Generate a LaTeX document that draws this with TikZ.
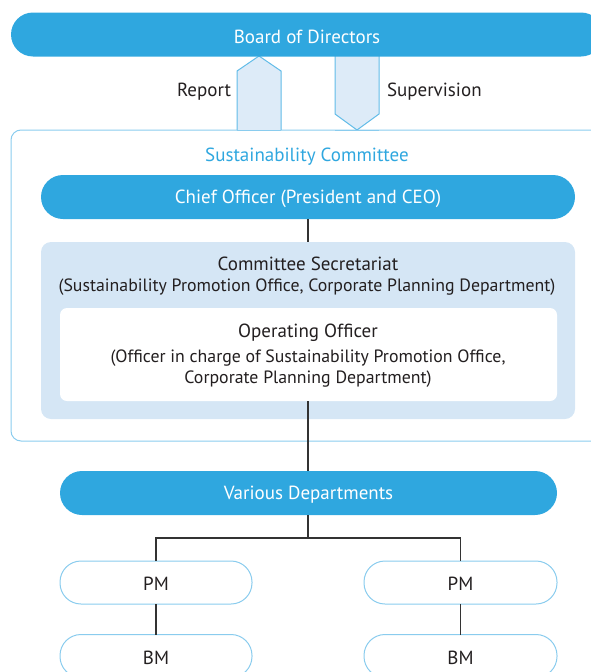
\documentclass[tikz,border=0pt]{standalone}
\usepackage{fontspec}
\setmainfont{PT Sans}
\begin{document}
\begin{tikzpicture}[x=1pt,y=-1pt,
  font=\fontsize{19}{22}\selectfont,
  every node/.style={inner sep=0pt, outer sep=0pt},
  pill/.style={fill=mainblue, draw=none, rounded corners=22pt, text=white},
  wpill/.style={fill=white, draw=lineblue, line width=1pt, rounded corners=21pt, text=textdark},
  conn/.style={draw=connc, line width=1.3pt},
  small/.style={font=\fontsize{17.8}{21}\selectfont},
  arrowshape/.style={fill=arrfill, draw=arrline, line width=1pt, line join=miter}
]
\definecolor{mainblue}{HTML}{2FA7DF}
\definecolor{lineblue}{HTML}{8ACCEE}
\definecolor{arrfill}{HTML}{DDEBF8}
\definecolor{arrline}{HTML}{62BCE8}
\definecolor{secfill}{HTML}{D5E6F5}
\definecolor{textdark}{HTML}{231F20}
\definecolor{connc}{HTML}{333333}
\useasboundingbox (0,0) rectangle (591,672);
\clip (0,0) rectangle (591,672);

% committee frame
\draw[draw=lineblue, line width=1pt, rounded corners=10pt] (11,130) rectangle (610,441);
\node[text=mainblue] (comm) at (307,157) {Sustainability Committee};

% arrows
\draw[arrowshape] (237,130) -- (237,71) -- (259,56) -- (281,71) -- (281,130);
\draw[arrowshape] (335,56) -- (335,114) -- (357,130) -- (379,114) -- (379,56);
\node[anchor=east, text=textdark] (rep) at (231,92) {Report};
\node[anchor=west, text=textdark] (sup) at (387,92) {Supervision};

% board
\node[pill, minimum height=44pt, minimum width=592pt] (boardbox) at (307,34.5) {};
\node[text=white] (board) at (307,36.5) {Board of Directors};
\draw[draw=lineblue, line width=1pt] (237,130) -- (281,130) (335,130)--(379,130);

% chief
\node[pill, minimum width=534pt, minimum height=44pt] (chief) at (308,197) {};
\node[text=white] (chieft) at (308,198.5) {Chief Officer (President and CEO)};

% secretariat
\node[fill=secfill, rounded corners=10pt, minimum width=534pt, minimum height=177pt] (sec) at (308,330.5) {};
\node[text=textdark] (sect) at (308,264) {Committee Secretariat};
\node[text=textdark, small] (sect2) at (307,287) {(Sustainability Promotion Office, Corporate Planning Department)};
\node[fill=white, rounded corners=7pt, minimum width=497pt, minimum height=93pt] (op) at (308.5,354.5) {};
\node[text=textdark] (opt) at (308,333) {Operating Officer};
\node[text=textdark, align=center, small] (opt2) at (308,369) {(Officer in charge of Sustainability Promotion Office,\\Corporate Planning Department)};

% various
\node[pill, minimum width=497pt, minimum height=44pt] (var) at (308.5,493) {};
\node[text=white] (vart) at (308.5,494.5) {Various Departments};

\node[wpill, minimum width=192pt, minimum height=43pt] (pm1) at (156,582.5) {};
\node[wpill, minimum width=193pt, minimum height=43pt] (pm2) at (460.5,582.5) {};
\node[wpill, minimum width=192pt, minimum height=43pt] (bm1) at (156,656) {};
\node[wpill, minimum width=193pt, minimum height=43pt] (bm2) at (460.5,656) {};
\node[text=textdark] (pm1t) at (156,584) {PM};
\node[text=textdark] (pm2t) at (460.5,584) {PM};
\node[text=textdark] (bm1t) at (156,658) {BM};
\node[text=textdark] (bm2t) at (460.5,658) {BM};

% connectors
\draw[conn] (chief.south -| 308,0) -- (sec.north -| 308,0);
\draw[conn] (op.south -| 308,0) -- (var.north -| 308,0);
\draw[conn] (var.south -| 308,0) -- (308,538) coordinate (br);
\draw[conn] (pm1.north) |- (br) -| (pm2.north);
\draw[conn] (pm1.south) -- (bm1.north);
\draw[conn] (pm2.south) -- (bm2.north);
\end{tikzpicture}
\end{document}
